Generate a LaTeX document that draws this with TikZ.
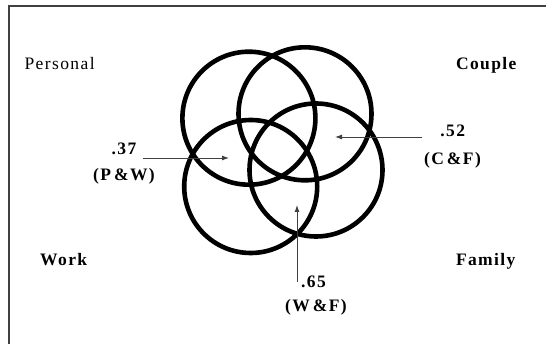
\documentclass[tikz,border=0pt]{standalone}
\usepackage{fontspec}
\setmainfont{Liberation Serif}
\usetikzlibrary{arrows.meta}

\tikzset{
  ring/.style={line width=4.6pt, black},
  pointer/.style={line width=0.9pt, black!75, -{Latex[length=7pt,width=5pt]}},
  lbl/.style={inner sep=0pt, font=\fontsize{17.5}{20}\selectfont\addfontfeatures{LetterSpace=8}},
  blbl/.style={lbl, font=\fontsize{17.5}{20}\selectfont\bfseries\addfontfeatures{LetterSpace=8}},
}

\begin{document}
\begin{tikzpicture}[x=1pt, y=-1pt]
  \useasboundingbox (0,0) rectangle (546,344);
  \draw[line width=1.2pt, black!75] (9,344) -- (9,6) -- (546,6);

  \coordinate (cp) at (248.9,118.2);
  \coordinate (cc) at (305.0,113.8);
  \coordinate (cw) at (250.7,186.5);
  \coordinate (cf) at (316.0,170.0);
  \draw[ring] (cp) circle[radius=66.5pt];
  \draw[ring] (cc) circle[radius=66.5pt];
  \draw[ring] (cw) circle[radius=66.5pt];
  \draw[ring] (cf) circle[radius=66.5pt];

  \node[lbl, anchor=base west] (personal) at (24.4,70) {Personal};
  \node[blbl, anchor=base east] (couple) at (516.7,69.5) {Couple};
  \node[blbl, anchor=base west] (work) at (40,265.7) {Work};
  \node[blbl, anchor=base east] (family) at (515.7,265.7) {Family};

  \node[blbl, anchor=base] (pwval) at (124,155) {.37};
  \node[blbl, anchor=base] (pwname) at (124,181) {(P\,\&W)};
  \node[blbl, anchor=base] (cfval) at (452.7,136.7) {.52};
  \node[blbl, anchor=base] (cfname) at (452.5,164.3) {(C\,\&F)};
  \node[blbl, anchor=base] (wfval) at (313.5,287.3) {.65};
  \node[blbl, anchor=base] (wfname) at (316,311.7) {(W\,\&F)};

  \coordinate (pwtail) at (143,158);
  \coordinate (pwtip) at (229,158);
  \coordinate (cftail) at (422,137);
  \coordinate (cftip) at (335,137);
  \coordinate (wftail) at (297,282);
  \coordinate (wftip) at (297,205);
  \draw[pointer] (pwtail) -- (pwtip);
  \draw[pointer] (cftail) -- (cftip);
  \draw[pointer] (wftail) -- (wftip);
\end{tikzpicture}
\end{document}
